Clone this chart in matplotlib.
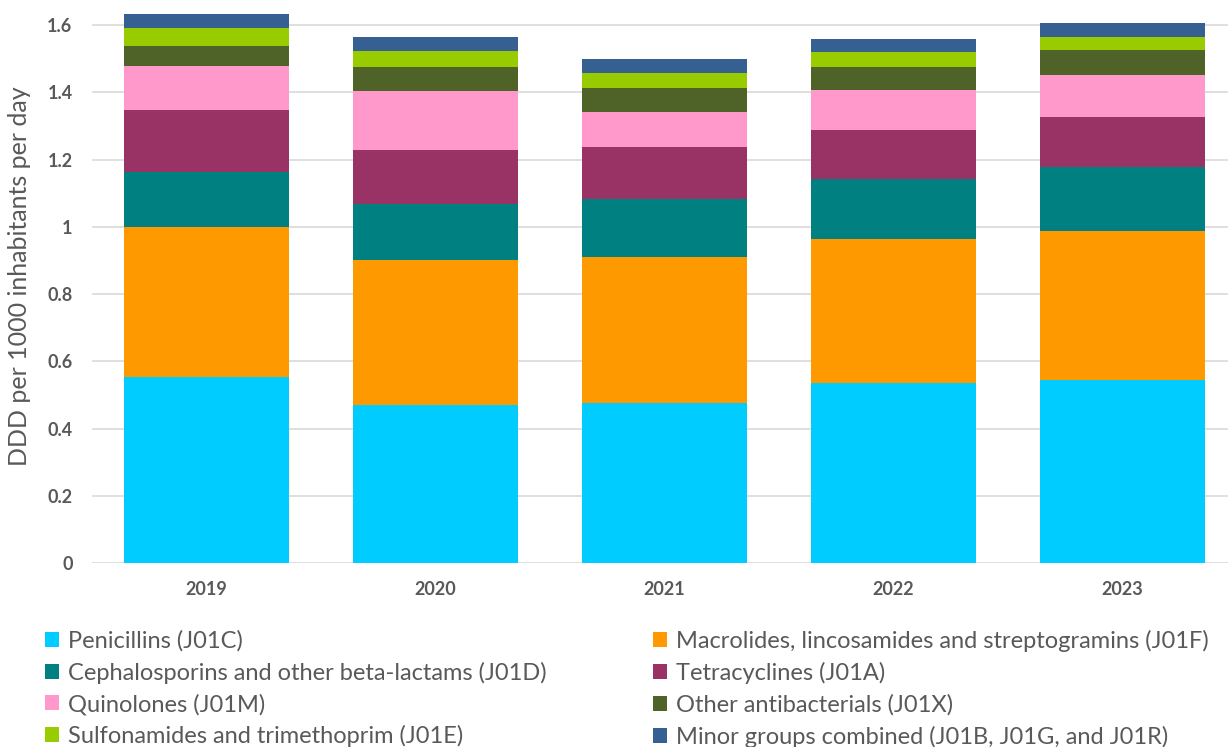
import matplotlib.pyplot as plt
import numpy as np
from matplotlib.patches import Patch

plt.rcParams['font.family'] = ['Lato', 'DejaVu Sans']

# data (DDD per 1000 inhabitants per day)
years = ['2019', '2020', '2021', '2022', '2023']
penicillins = [0.552, 0.470, 0.476, 0.535, 0.544]
macrolides = [0.449, 0.431, 0.434, 0.429, 0.444]
cephalosporins = [0.163, 0.166, 0.173, 0.177, 0.191]
tetracyclines = [0.185, 0.161, 0.154, 0.148, 0.148]
quinolones = [0.130, 0.176, 0.104, 0.117, 0.126]
other_antibacterials = [0.058, 0.071, 0.072, 0.071, 0.072]
sulfonamides = [0.055, 0.048, 0.045, 0.044, 0.041]
minor_groups = [0.041, 0.043, 0.041, 0.037, 0.040]

series = [
    ('Penicillins (J01C)', penicillins, '#00CCFF'),
    ('Macrolides, lincosamides and streptogramins (J01F)', macrolides, '#FF9900'),
    ('Cephalosporins and other beta-lactams (J01D)', cephalosporins, '#008080'),
    ('Tetracyclines (J01A)', tetracyclines, '#993366'),
    ('Quinolones (J01M)', quinolones, '#FF99CC'),
    ('Other antibacterials (J01X)', other_antibacterials, '#4F6228'),
    ('Sulfonamides and trimethoprim (J01E)', sulfonamides, '#99CC00'),
    ('Minor groups combined (J01B, J01G, and J01R)', minor_groups, '#366092'),
]

W, H = 1228, 747
fig = plt.figure(figsize=(W / 100, H / 100), dpi=100)
ax = fig.add_axes([92 / W, (H - 563) / H, 1145 / W, 558 / H])

x = np.arange(len(years))
bottom = np.zeros(len(years))
for label, vals, color in series:
    ax.bar(x, vals, width=0.717, bottom=bottom, color=color, linewidth=0, zorder=3)
    bottom += np.array(vals)

ax.set_xlim(-0.5, len(years) - 0.5)
ax.set_ylim(0, 1.66)
ax.set_yticks([0, 0.2, 0.4, 0.6, 0.8, 1.0, 1.2, 1.4, 1.6])
ax.set_yticklabels(['0', '0.2', '0.4', '0.6', '0.8', '1', '1.2', '1.4', '1.6'])
ax.set_xticks(x)
ax.set_xticklabels(years)
ax.grid(axis='y', color='#D9D9D9', linewidth=1.2, zorder=0)
for s in ax.spines.values():
    s.set_visible(False)
ax.tick_params(length=0, labelcolor='#595959', labelsize=13)
ax.tick_params(axis='y', pad=14)
ax.tick_params(axis='x', pad=13)
for t in ax.get_xticklabels() + ax.get_yticklabels():
    t.set_fontweight('bold')

fig.text(20 / W, (H - 276) / H, 'DDD per 1000 inhabitants per day', rotation=90,
         ha='center', va='center', color='#595959', fontsize=18)

# legend: two columns placed by hand
def col_legend(items, xpos):
    handles = [Patch(facecolor=c, edgecolor='none') for _, _, c in items]
    labels = [l for l, _, _ in items]
    fig.legend(handles, labels, loc='upper left', bbox_to_anchor=(xpos / W, (H - 630) / H),
               frameon=False, fontsize=17, labelcolor='#595959', handlelength=0.58,
               handleheight=0.58, handletextpad=0.38, labelspacing=0.42,
               borderpad=0, borderaxespad=0)

col_legend(series[0::2], 45)
col_legend(series[1::2], 653)

fig.savefig('out.png', dpi=100)
